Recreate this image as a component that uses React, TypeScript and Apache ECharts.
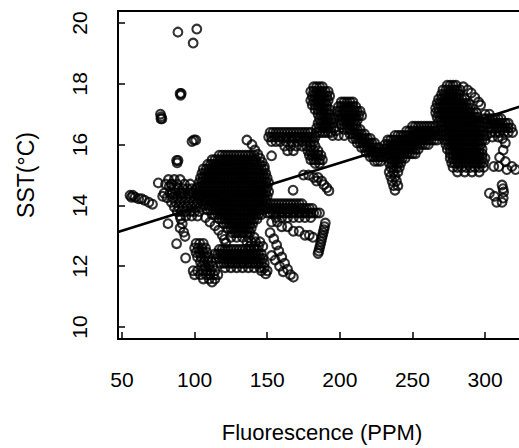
import React, { useEffect, useRef } from "react";
import * as echarts from "echarts";

// Axis ticks
const X_TICKS = [50, 100, 150, 200, 250, 300];
const Y_TICKS = [10, 12, 14, 16, 18, 20];
const X_RANGE = [47.25, 328.2];
const Y_RANGE = [9.605, 20.395];

// Fitted regression line endpoints
const FIT_X = [47.25, 328.2];
const FIT_Y = [13.125, 17.31];

// Each row: [SST, fluorescence values...]
const OUTLIERS = [
  [19.8, 101.5], [19.7, 88.5], [19.34, 99],
  [17.68, 90, 90.8], [17.62, 90.4],
  [17.0, 76.5], [16.92, 77], [16.85, 77.5, 76.8],
  [16.15, 99.5, 100.8], [16.1, 98.2],
  [15.48, 87.6, 88.6], [15.4, 88],
  [14.74, 75], [14.7, 84], [14.62, 82.5],
];

const LEFT_CHAIN = [
  [14.33, 55.5, 57.5], [14.27, 56.5, 59], [14.22, 61.5, 63.5], [14.17, 65.5],
  [14.1, 68.5], [14.04, 71], [14.3, 78], [14.4, 84.5, 91.3], [14.42, 98.9],
];

const LEFT_GROUP = [
  [14.85, 82, 86, 90],
  [14.7, 80, 84, 88, 93, 97],
  [14.55, 86, 89, 92, 95, 98, 101],
  [14.4, 79, 83, 87, 90, 93, 96, 99, 102],
  [14.25, 81, 85, 88, 91, 94, 97, 100, 103],
  [14.1, 84, 87, 90, 93, 96, 99, 102],
  [13.95, 86, 89, 92, 95, 98, 101, 104],
  [13.8, 88, 91, 94, 97, 100, 103],
  [13.65, 90, 94, 98, 102],
  [13.4, 81.7], [13.55, 90.5], [13.4, 91.5], [13.26, 90], [13.12, 92.5],
  [12.98, 93.4], [12.74, 87.6], [12.27, 93.8],
];

const MAIN_BLOB = [
  [15.65, 117, 119, 121, 123, 125, 127, 129, 131, 133, 135, 137, 139, 141],
  [15.5, 112, 114, 116, 118, 120, 122, 124, 126, 128, 130, 132, 134, 136, 138, 140, 142],
  [15.35, 109, 111, 113, 115, 117, 119, 121, 123, 125, 127, 129, 131, 133, 135, 137, 139, 141, 143, 145],
  [15.2, 106, 108, 110, 112, 114, 116, 118, 120, 122, 124, 126, 128, 130, 132, 134, 136, 138, 140, 142, 144, 146, 148],
  [15.05, 105, 107, 109, 111, 113, 115, 117, 119, 121, 123, 125, 127, 129, 131, 133, 135, 137, 139, 141, 143, 145, 147, 149],
  [14.9, 104, 106, 108, 110, 112, 114, 116, 118, 120, 122, 124, 126, 128, 130, 132, 134, 136, 138, 140, 142, 144, 146, 148, 150],
  [14.75, 103, 105, 107, 109, 111, 113, 115, 117, 119, 121, 123, 125, 127, 129, 131, 133, 135, 137, 139, 141, 143, 145, 147, 149, 151],
  [14.6, 102, 104, 106, 108, 110, 112, 114, 116, 118, 120, 122, 124, 126, 128, 130, 132, 134, 136, 138, 140, 142, 144, 146, 148, 150],
  [14.45, 103, 105, 107, 109, 111, 113, 115, 117, 119, 121, 123, 125, 127, 129, 131, 133, 135, 137, 139, 141, 143, 145, 147, 149, 151],
  [14.3, 102, 104, 106, 108, 110, 112, 114, 116, 118, 120, 122, 124, 126, 128, 130, 132, 134, 136, 138, 140, 142, 144, 146, 148, 150],
  [14.15, 105, 107, 109, 111, 113, 115, 117, 119, 121, 123, 125, 127, 129, 131, 133, 135, 137, 139, 141, 143, 145, 147, 149],
  [14.0, 106, 108, 110, 112, 114, 116, 118, 120, 122, 124, 126, 128, 130, 132, 134, 136, 138, 140, 142, 144, 146, 148],
  [13.85, 109, 111, 113, 115, 117, 119, 121, 123, 125, 127, 129, 131, 133, 135, 137, 139, 141, 143, 145, 147],
  [13.7, 112, 114, 116, 118, 120, 122, 124, 126, 128, 130, 132, 134, 136, 138, 140, 142, 144, 146],
  [13.55, 117, 119, 121, 123, 125, 127, 129, 131, 133, 135, 137, 139, 141, 143],
  [13.4, 120, 122, 124, 126, 128, 130, 132, 134, 136, 138, 140],
  [13.25, 123, 125, 127, 129, 131, 133, 135, 137, 139],
  [13.1, 126, 128, 130, 132, 134, 136, 138],
  [12.95, 125, 129, 133, 137, 141],
  [12.8, 136, 139, 142, 145],
  [12.65, 138, 141, 144, 147],
  [16.15, 136], [16.0, 139.5], [15.82, 141.5], [15.68, 143.5], [15.55, 145], [15.42, 146.5], [15.28, 148],
];

const BLOB_ARM = [
  [13.6, 107.5], [13.45, 110.5], [13.33, 114], [13.18, 116.5], [13.02, 119], [12.88, 120.5], [12.76, 121.5],
];

const LOWER_ARM = [
  [12.75, 101, 103.5, 106],
  [12.6, 100, 102.5, 105, 107.5],
  [12.45, 101, 103.5, 106, 108.5],
  [12.3, 102, 104.5, 107, 109.5],
  [12.15, 104, 106.5, 109, 111.5],
  [12.0, 105, 107.5, 110, 112.5],
  [11.85, 99, 102, 106, 108.5, 111, 114],
  [11.72, 100, 104, 108, 110.5, 113, 116],
  [11.58, 106, 110, 114],
  [11.48, 112],
];

const LOWER_BAND = [
  [12.55, 117, 119, 121, 123, 125, 127, 129, 131, 133, 135, 137, 139, 141, 143],
  [12.4, 114, 116, 118, 120, 122, 124, 126, 128, 130, 132, 134, 136, 138, 140, 142, 144, 146],
  [12.25, 115, 117, 119, 121, 123, 125, 127, 129, 131, 133, 135, 137, 139, 141, 143, 145, 147],
  [12.1, 118, 120, 122, 124, 126, 128, 130, 132, 134, 136, 138, 140, 142, 144, 146, 148],
  [11.95, 121, 125, 129, 133, 137, 141, 145, 148],
  [11.85, 146, 150], [11.75, 149],
];

const CHAIN_E = [
  [13.1, 152], [12.9, 154.5], [12.7, 156.5], [12.5, 158], [12.35, 153], [12.3, 160],
  [12.2, 155.5], [12.1, 162], [12.0, 158.5], [11.9, 164], [11.82, 161], [11.72, 166], [11.64, 168],
];

const MID_BAND = [
  [14.05, 150, 152, 154, 156, 158, 160, 162, 164, 166, 168, 170, 172, 174],
  [13.9, 149, 151, 153, 155, 157, 159, 161, 163, 165, 167, 169, 171, 173, 175, 177, 179, 181],
  [13.75, 150, 152, 154, 156, 158, 160, 162, 164, 166, 168, 170, 172, 174, 176, 178, 180, 182, 184, 186],
  [13.6, 156, 160, 164, 168, 172, 176, 180],
];

const MID_CHAINS = [
  [13.45, 153, 157], [13.3, 160, 164], [13.15, 168, 172], [13.02, 176, 179], [12.95, 181.5],
  [13.42, 190], [13.3, 189.5], [13.2, 189], [13.1, 188.5], [13.0, 188], [12.9, 187.5],
  [12.8, 187], [12.7, 186.5], [12.6, 186], [12.5, 185.5], [12.42, 185],
  [15.0, 175, 178.5], [14.92, 182, 185], [14.8, 184, 187.5], [14.68, 189], [14.58, 191], [14.48, 192.5],
  [14.5, 167.8], [15.63, 153],
];

const UPPER_MID = [
  [16.4, 152, 154, 156, 158, 160, 162, 164, 166, 168, 170, 172, 174, 176, 178, 180],
  [16.25, 151, 153, 155, 157, 159, 161, 163, 165, 167, 169, 171, 173, 175, 177, 179, 181, 183],
  [16.1, 153, 156, 159, 163, 167, 171, 174, 177, 180, 182],
  [15.95, 162, 166, 170, 174, 177, 180, 183],
  [15.8, 164, 168, 178, 180, 182, 185],
  [15.65, 179, 181, 183, 185, 187],
  [15.5, 180, 182, 184, 186, 188],
  [15.38, 183, 186],
];

const PEAK_185 = [
  [17.9, 182, 184, 186, 188],
  [17.75, 180, 182, 184, 186, 188, 190, 192],
  [17.6, 181, 183, 185, 187, 189, 191, 193],
  [17.45, 180, 182, 184, 186, 188, 190, 192],
  [17.3, 181, 183, 185, 187, 189, 191],
  [17.15, 183, 185, 187, 189, 191, 193],
  [17.0, 185, 187, 189, 191, 193],
  [16.85, 186, 188, 190, 192, 194, 196],
  [16.7, 185, 187, 189, 191, 193, 195],
  [16.55, 184, 186, 188, 190, 192, 194, 196],
  [16.4, 184, 186, 188, 190, 192, 194],
  [16.45, 197], [16.3, 195, 199, 203],
];

const PEAK_205 = [
  [17.4, 201, 203, 205, 207, 209],
  [17.25, 199, 201, 203, 205, 207, 209, 211],
  [17.1, 198, 200, 202, 204, 206, 208, 210, 212, 214],
  [16.95, 199, 201, 203, 205, 207, 209, 211, 213, 215],
  [16.8, 200, 202, 204, 206, 208, 210, 212],
  [16.65, 201, 203, 205, 207, 209, 211],
  [16.5, 203, 205, 207],
];

const DESCENT = [
  [16.5, 210, 212, 214],
  [16.35, 207, 209, 211, 213, 215, 217],
  [16.2, 209, 211, 213, 215, 217, 219, 221],
  [16.05, 212, 214, 216, 218, 220, 222, 224],
  [15.9, 215, 217, 219, 221, 223, 225, 227],
  [15.75, 218, 220, 222, 224, 226, 228, 230],
  [15.6, 221, 223, 225, 227, 229, 231],
  [15.45, 224, 226, 228],
];

const DIP_240 = [
  [16.6, 250, 252, 254, 256, 258, 260, 262, 264, 266],
  [16.45, 246, 248, 250, 252, 254, 256, 258, 260, 262, 264, 266, 268],
  [16.3, 238, 240, 242, 244, 246, 248, 250, 252, 254, 256, 258, 260, 262, 264, 266, 268, 270],
  [16.15, 233, 235, 237, 239, 241, 243, 245, 247, 249, 251, 253, 255, 257, 259, 261, 263, 265, 267],
  [16.0, 231, 233, 235, 237, 239, 241, 243, 245, 247, 249, 251, 253, 255, 257, 259, 261],
  [15.85, 230, 232, 234, 236, 238, 240, 242, 244, 246, 248, 250, 252, 254],
  [15.7, 232, 234, 236, 238, 240, 242, 244, 246, 248, 250, 252],
  [15.55, 233, 235, 237, 239, 241, 243, 245],
  [15.4, 234, 236, 238, 240, 242],
  [15.25, 235, 237, 239, 241],
  [15.1, 234, 237, 240],
  [14.95, 235, 238],
  [14.8, 236, 239],
  [14.65, 237, 240],
  [14.5, 238],
];

const RIGHT_BLOB = [
  [17.95, 274, 276, 278, 280],
  [17.8, 271, 273, 275, 277, 279, 281, 283],
  [17.65, 270, 272, 274, 276, 278, 280, 282],
  [17.5, 268, 270, 272, 274, 276, 278, 280, 282, 284, 286],
  [17.35, 267, 269, 271, 273, 275, 277, 279, 281, 283, 285, 287, 289],
  [17.2, 266, 268, 270, 272, 274, 276, 278, 280, 282, 284, 286, 288, 290],
  [17.05, 266, 268, 270, 272, 274, 276, 278, 280, 282, 284, 286, 288, 290, 292, 294],
  [16.9, 267, 269, 271, 273, 275, 277, 279, 281, 283, 285, 287, 289, 291, 293, 295],
  [16.75, 268, 270, 272, 274, 276, 278, 280, 282, 284, 286, 288, 290, 292, 294, 296],
  [16.6, 270, 272, 274, 276, 278, 280, 282, 284, 286, 288, 290, 292, 294, 296, 298],
  [16.45, 271, 273, 275, 277, 279, 281, 283, 285, 287, 289, 291, 293, 295, 297, 299],
  [16.3, 273, 275, 277, 279, 281, 283, 285, 287, 289, 291, 293, 295, 297, 299, 301],
  [16.15, 272, 274, 276, 278, 280, 282, 284, 286, 288, 290, 292, 294, 296, 298, 300],
  [16.0, 273, 275, 277, 279, 281, 283, 285, 287, 289, 291, 293, 295, 297],
  [15.85, 274, 276, 278, 280, 282, 284, 286, 288, 290, 292, 294, 296, 298],
  [15.7, 276, 278, 280, 282, 284, 286, 288, 290, 292, 294, 296, 298],
  [15.55, 276, 278, 280, 282, 284, 286, 288, 290, 292, 294, 296, 298, 300],
  [15.4, 277, 279, 281, 283, 285, 287, 289, 291, 293, 295, 297, 299],
  [15.25, 278, 281, 284, 287, 290, 293, 296, 299],
  [15.1, 281, 286, 291, 296],
  [17.9, 285], [17.8, 288], [17.7, 290.5], [17.55, 293], [17.4, 295.5], [17.3, 297],
];

const RIGHT_EDGE = [
  [17.0, 300, 303],
  [16.85, 299, 301, 303, 305, 307, 309, 311],
  [16.7, 300, 302, 304, 306, 308, 310, 312, 314, 316],
  [16.55, 302, 304, 306, 308, 310, 312, 314, 316, 318],
  [16.4, 304, 307, 310, 313, 316, 319],
  [16.25, 305, 309],
];

const RIGHT_LOW = [
  [16.2, 312], [16.05, 314], [15.82, 312.5], [15.58, 310], [15.44, 314],
  [15.28, 306, 309.5, 318.5], [15.18, 315, 321],
  [14.67, 311.7], [14.55, 312.4], [14.44, 312.8], [14.4, 303], [14.3, 306.5],
  [14.24, 312.5], [14.1, 308, 311.7],
];

const CLUSTERS = [
  OUTLIERS, LEFT_CHAIN, LEFT_GROUP, MAIN_BLOB, BLOB_ARM, LOWER_ARM, LOWER_BAND, CHAIN_E,
  MID_BAND, MID_CHAINS, UPPER_MID, PEAK_185, PEAK_205, DESCENT, DIP_240, RIGHT_BLOB,
  RIGHT_EDGE, RIGHT_LOW,
];

const FONT = "'Liberation Sans', Arial, Helvetica, sans-serif";

export default function App() {
  const ref = useRef<HTMLDivElement>(null);

  useEffect(() => {
    document.body.style.margin = "0";
    if (!ref.current) return;
    const chart = echarts.init(ref.current, null, { renderer: "svg" });

    const points: number[][] = [];
    CLUSTERS.forEach((rows) =>
      rows.forEach(([y, ...xs]) => xs.forEach((x) => points.push([x, y])))
    );

    chart.setOption({
      animation: false,
      backgroundColor: "#fff",
      grid: {
        left: 118,
        top: 11,
        bottom: 109,
        right: -7,
        containLabel: false,
        outerBoundsMode: "none",
        show: true,
        borderColor: "#000",
        borderWidth: 2,
        backgroundColor: "transparent",
      },
      xAxis: {
        type: "value",
        min: X_RANGE[0],
        max: X_RANGE[1],
        axisLine: { show: false },
        splitLine: { show: false },
        axisTick: {
          show: true,
          inside: true,
          length: 7,
          customValues: X_TICKS,
          lineStyle: { color: "#000", width: 1.5 },
        },
        axisLabel: {
          customValues: X_TICKS,
          fontSize: 21,
          color: "#000",
          fontFamily: FONT,
          margin: 30,
          showMinLabel: true,
          showMaxLabel: true,
        },
        name: "Fluorescence (PPM)",
        nameLocation: "middle",
        nameGap: 82,
        nameTextStyle: { fontSize: 22, color: "#000", fontFamily: FONT },
      },
      yAxis: {
        type: "value",
        min: Y_RANGE[0],
        max: Y_RANGE[1],
        axisLine: { show: false },
        splitLine: { show: false },
        axisTick: {
          show: true,
          inside: true,
          length: 7,
          customValues: Y_TICKS,
          lineStyle: { color: "#000", width: 1.5 },
        },
        axisLabel: {
          customValues: Y_TICKS,
          rotate: 90,
          fontSize: 21,
          color: "#000",
          fontFamily: FONT,
          margin: 28,
        },
        name: "SST(°C)",
        nameLocation: "middle",
        nameGap: 81,
        nameTextStyle: { fontSize: 23, color: "#000", fontFamily: FONT },
      },
      series: [
        {
          type: "scatter",
          data: points,
          symbol: "circle",
          symbolSize: 8.8,
          itemStyle: { color: "rgba(0,0,0,0)", borderColor: "#000", borderWidth: 2.1 },
          emphasis: { disabled: true },
          z: 2,
        },
        {
          type: "line",
          data: [
            [FIT_X[0], FIT_Y[0]],
            [FIT_X[1], FIT_Y[1]],
          ],
          symbol: "none",
          lineStyle: { color: "#000", width: 2.6 },
          z: 3,
        },
      ],
    });

    return () => chart.dispose();
  }, []);

  return <div ref={ref} style={{ width: 519, height: 448 }} />;
}
